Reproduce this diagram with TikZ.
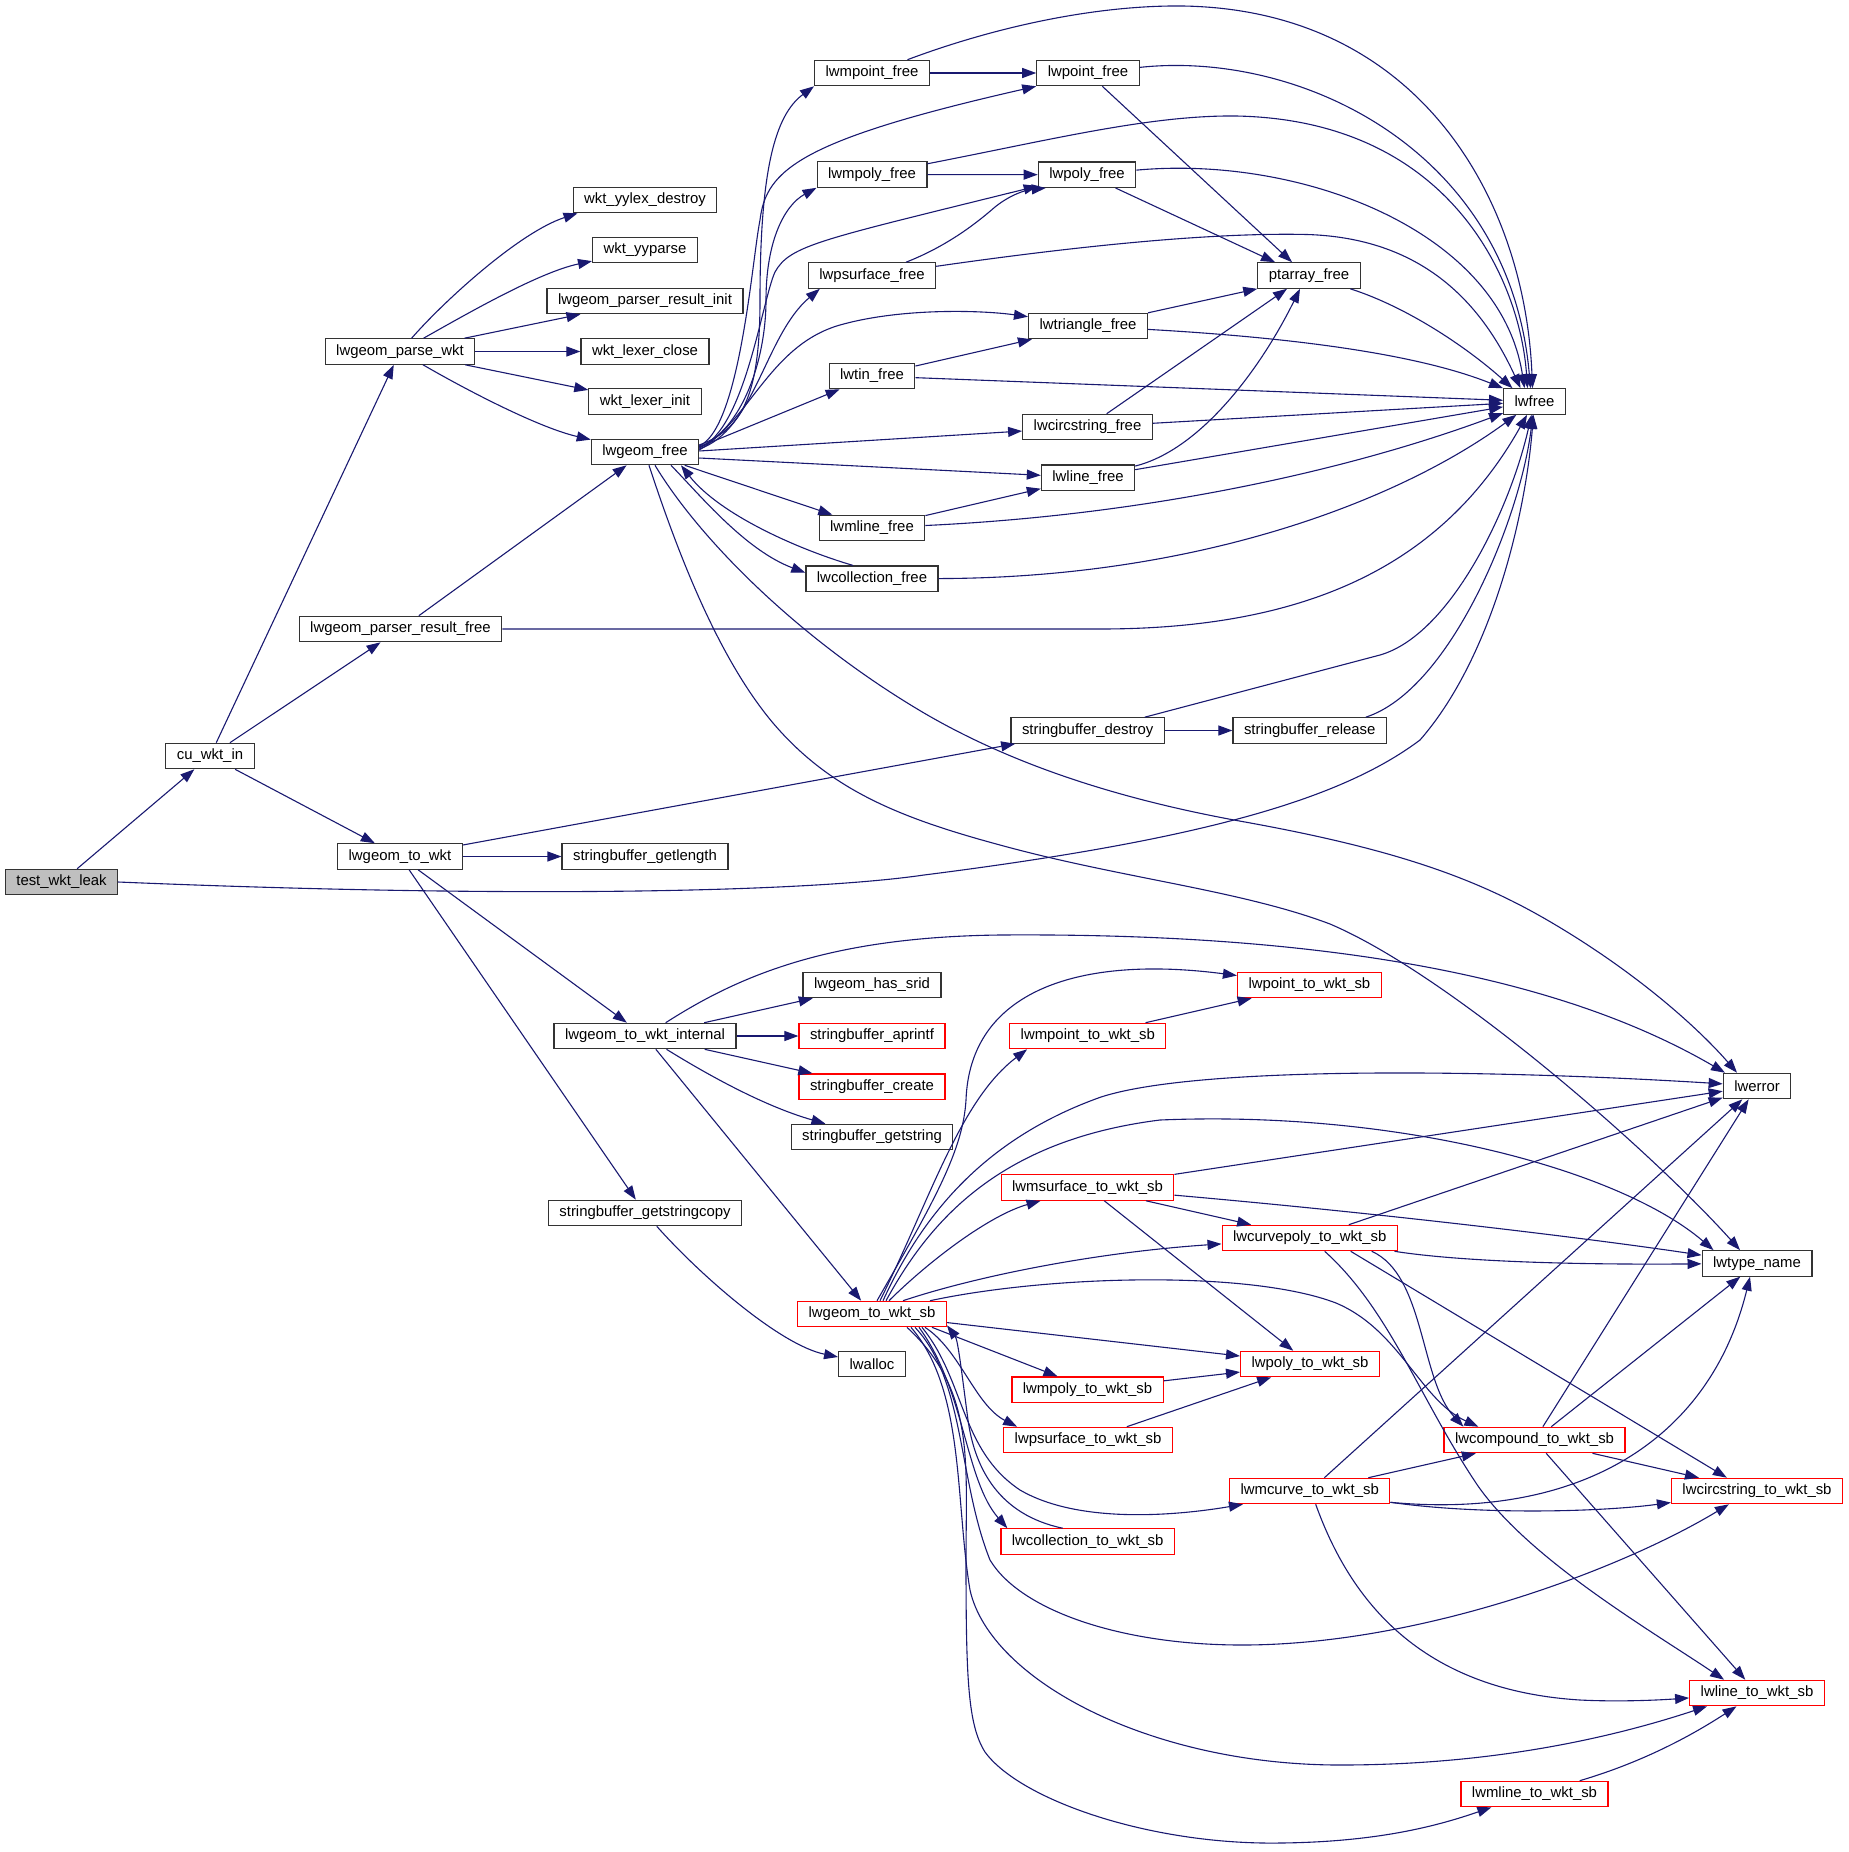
\documentclass[tikz,border=0pt]{standalone}
\usepackage{fontspec}
\setmainfont{Liberation Sans}
\usetikzlibrary{arrows.meta,positioning,calc}
\definecolor{edgeblue}{HTML}{191970}
\definecolor{rootgray}{HTML}{BFBFBF}

\begin{document}
\begin{tikzpicture}[
  x=0.5pt, y=-0.5pt,
  box/.style={rectangle, draw=black!80, line width=0.6pt, fill=white, inner xsep=5.5pt, inner ysep=0pt, minimum height=12.7pt, font=\fontsize{7.45pt}{9pt}\selectfont},
  redbox/.style={box, draw=red},
  rootbox/.style={box, fill=rootgray},
  arrow/.style={draw=edgeblue, line width=0.55pt, -{Triangle[length=7pt,width=5pt]}}]

\useasboundingbox (0,0) rectangle (1848,1852);

\node[rootbox] (test) at (61.5,882) {test\_wkt\_leak};
\node[box] (cuwkt) at (210,756) {cu\_wkt\_in};
\node[box] (parse) at (400,351.5) {lwgeom\_parse\_wkt};
\node[box] (resfree) at (400.5,629) {lwgeom\_parser\_result\_free};
\node[box] (towkt) at (400,856.5) {lwgeom\_to\_wkt};

\node[box] (yylex) at (645,200) {wkt\_yylex\_destroy};
\node[box] (yyparse) at (645,250) {wkt\_yyparse};
\node[box] (resinit) at (645,301) {lwgeom\_parser\_result\_init};
\node[box] (lexclose) at (645,351.5) {wkt\_lexer\_close};
\node[box] (lexinit) at (645,401.5) {wkt\_lexer\_init};
\node[box] (geomfree) at (645,452) {lwgeom\_free};
\node[box] (getlen) at (645,856.5) {stringbuffer\_getlength};
\node[box] (towktint) at (645,1036) {lwgeom\_to\_wkt\_internal};
\node[box] (getcopy) at (645,1213) {stringbuffer\_getstringcopy};

\node[box] (mpointfree) at (872,73) {lwmpoint\_free};
\node[box] (mpolyfree) at (872,174.5) {lwmpoly\_free};
\node[box] (psurffree) at (872,275.5) {lwpsurface\_free};
\node[box] (tinfree) at (872,376) {lwtin\_free};
\node[box] (mlinefree) at (872,528) {lwmline\_free};
\node[box] (collfree) at (872,578.7) {lwcollection\_free};
\node[box] (hassrid) at (872,985) {lwgeom\_has\_srid};
\node[redbox] (aprintf) at (872,1036) {stringbuffer\_aprintf};
\node[redbox] (sbcreate) at (872,1086.6) {stringbuffer\_create};
\node[box] (getstr) at (872,1137) {stringbuffer\_getstring};
\node[redbox] (towktsb) at (872,1314) {lwgeom\_to\_wkt\_sb};
\node[box] (lwalloc) at (872,1364) {lwalloc};

\node[box] (pointfree) at (1088,73) {lwpoint\_free};
\node[box] (polyfree) at (1087,174.7) {lwpoly\_free};
\node[box] (trifree) at (1088,326) {lwtriangle\_free};
\node[box] (circfree) at (1087.5,427) {lwcircstring\_free};
\node[box] (linefree) at (1088,477.7) {lwline\_free};
\node[box] (sbdestroy) at (1087.7,730.5) {stringbuffer\_destroy};
\node[redbox] (mpointsb) at (1087.8,1036) {lwmpoint\_to\_wkt\_sb};
\node[redbox] (msurfsb) at (1087.5,1187.5) {lwmsurface\_to\_wkt\_sb};
\node[redbox] (mpolysb) at (1087.5,1389.6) {lwmpoly\_to\_wkt\_sb};
\node[redbox] (psurfsb) at (1088,1440) {lwpsurface\_to\_wkt\_sb};
\node[redbox] (collsb) at (1087.7,1541.5) {lwcollection\_to\_wkt\_sb};

\node[box] (ptarray) at (1309,275.5) {ptarray\_free};
\node[box] (sbrelease) at (1309.7,730.5) {stringbuffer\_release};
\node[redbox] (pointsb) at (1309.4,985) {lwpoint\_to\_wkt\_sb};
\node[redbox] (curvepolysb) at (1309.7,1238) {lwcurvepoly\_to\_wkt\_sb};
\node[redbox] (polysb) at (1310,1364) {lwpoly\_to\_wkt\_sb};
\node[redbox] (mcurvesb) at (1309.7,1491) {lwmcurve\_to\_wkt\_sb};

\node[box] (lwfree) at (1534.5,401.5) {lwfree};
\node[redbox] (compoundsb) at (1534.5,1440) {lwcompound\_to\_wkt\_sb};
\node[redbox] (mlinesb) at (1534.5,1794) {lwmline\_to\_wkt\_sb};

\node[box] (lwerror) at (1757,1086) {lwerror};
\node[box] (typename) at (1757,1263.4) {lwtype\_name};
\node[redbox] (circsb) at (1757,1491) {lwcircstring\_to\_wkt\_sb};
\node[redbox] (linesb) at (1757,1693) {lwline\_to\_wkt\_sb};

% callers on the left
\draw[arrow] (test) -- (cuwkt);
\draw[arrow] (test.east) .. controls (500,898) and (800,893) .. (924,875) .. controls (1200,840) and (1340,800) .. (1420,740) .. controls (1490,660) and (1525,520) .. (lwfree);
\draw[arrow] (cuwkt) -- (parse);
\draw[arrow] (cuwkt) -- (resfree);
\draw[arrow] (cuwkt) -- (towkt);

\draw[arrow] (parse) .. controls (445,300) and (520,232) .. ($(yylex.south west)+(5,0)$);
\draw[arrow] (parse) .. controls (470,312) and (540,272) .. (yyparse);
\draw[arrow] (parse) -- (resinit);
\draw[arrow] (parse) -- (lexclose);
\draw[arrow] (parse) -- (lexinit);
\draw[arrow] (parse) .. controls (470,392) and (540,428) .. (geomfree);

\draw[arrow] (resfree) -- (geomfree);
\draw[arrow] (resfree.east) -- (1100,629) .. controls (1300,629) and (1440,570) .. (lwfree);

\draw[arrow] (towkt) -- (getlen);
\draw[arrow] (towkt) -- (sbdestroy);
\draw[arrow] (towkt) -- (towktint);
\draw[arrow] (towkt) -- (getcopy);

% lwgeom_free
\draw[arrow] ($(geomfree.east)+(0,-7)$) .. controls (740,430) and (760,400) .. (760,300) .. controls (760,170) and (775,115) .. (mpointfree.south west);
\draw[arrow] ($(geomfree.east)+(0,-6)$) .. controls (740,428) and (752,260) .. (760,220) .. controls (766,170) and (800,140) .. (pointfree.south west);
\draw[arrow] ($(geomfree.east)+(0,-5)$) .. controls (742,430) and (766,360) .. (766,300) .. controls (766,240) and (785,205) .. (mpolyfree.south west);
\draw[arrow] ($(geomfree.east)+(0,-4)$) .. controls (745,430) and (762,300) .. (775,272) .. controls (790,245) and (820,240) .. ($(polyfree.south west)+(0,-2)$);
\draw[arrow] ($(geomfree.east)+(0,-3)$) .. controls (755,430) and (765,335) .. ($(psurffree.south west)+(12,0)$);
\draw[arrow] ($(geomfree.east)+(0,-2)$) .. controls (750,420) and (770,345) .. (840,325) .. controls (900,308) and (980,310) .. ($(trifree.north west)+(0,4)$);
\draw[arrow] ($(geomfree.east)+(0,-5)$) -- (tinfree);
\draw[arrow] ($(geomfree.east)+(0,-1)$) -- (circfree);
\draw[arrow] ($(geomfree.east)+(0,6)$) -- (linefree);
\draw[arrow] (geomfree) -- (mlinefree);
\draw[arrow] ($(geomfree.south)+(26,0)$) .. controls (700,495) and (745,550) .. ($(collfree.west)+(0,-6)$);
\draw[arrow] ($(collfree.north)+(-19,0)$) .. controls (800,550) and (720,515) .. ($(geomfree.south)+(36,0)$);
\draw[arrow] ($(geomfree.south)+(10,0)$) .. controls (700,540) and (800,640) .. (924,713) .. controls (1030,775) and (1150,805) .. (1245,822) .. controls (1400,850) and (1480,880) .. (1554,924) .. controls (1640,975) and (1700,1030) .. ($(lwerror.north)+(-20,0)$);
\draw[arrow] ($(geomfree.south)+(4,0)$) .. controls (680,560) and (720,660) .. (773,723) .. controls (830,790) and (900,818) .. (1000,845) .. controls (1120,878) and (1240,890) .. (1330,924) .. controls (1450,975) and (1650,1150) .. ($(typename.north)+(-17,0)$);

% free functions
\draw[arrow] (mpointfree) -- (pointfree);
\draw[arrow] (mpointfree) .. controls (1000,25) and (1100,5) .. (1183,6) .. controls (1420,10) and (1525,200) .. ($(lwfree.north)+(-2,0)$);
\draw[arrow] (pointfree) .. controls (1300,50) and (1510,150) .. ($(lwfree.north)+(-4,0)$);
\draw[arrow] (pointfree) -- ($(ptarray.north)+(-17,0)$);
\draw[arrow] (mpolyfree) -- (polyfree);
\draw[arrow] (mpolyfree) .. controls (1050,140) and (1150,115) .. (1236,116) .. controls (1450,120) and (1520,280) .. ($(lwfree.north)+(-7,0)$);
\draw[arrow] (polyfree) .. controls (1300,155) and (1500,230) .. ($(lwfree.north)+(-10,0)$);
\draw[arrow] (polyfree) -- ($(ptarray.north)+(-34,0)$);
\draw[arrow] (psurffree) .. controls (950,245) and (980,220) .. (995,207) .. controls (1010,195) and (1025,190) .. ($(polyfree.south west)+(8,0)$);
\draw[arrow] (psurffree) .. controls (1050,250) and (1200,232) .. (1307,234.5) .. controls (1420,238) and (1480,300) .. ($(lwfree.north)+(-14,0)$);
\draw[arrow] (ptarray) .. controls (1410,308) and (1470,350) .. ($(lwfree.north)+(-22,0)$);
\draw[arrow] (trifree) -- (ptarray.south west);
\draw[arrow] (trifree) .. controls (1300,338) and (1420,355) .. (lwfree.north west);
\draw[arrow] (tinfree) -- ($(trifree.south west)+(4,0)$);
\draw[arrow] (tinfree) -- (lwfree);
\draw[arrow] (circfree) -- ($(ptarray.south)+(-22,0)$);
\draw[arrow] (circfree) -- (lwfree);
\draw[arrow] (linefree) .. controls (1200,450) and (1260,370) .. ($(ptarray.south)+(-9,0)$);
\draw[arrow] (linefree) -- (lwfree);
\draw[arrow] (mlinefree) -- (linefree);
\draw[arrow] (mlinefree) .. controls (1150,515) and (1350,470) .. (lwfree);
\draw[arrow] (collfree) .. controls (1200,578) and (1400,500) .. (lwfree);
\draw[arrow] (sbdestroy) -- (sbrelease);
\draw[arrow] ($(sbdestroy.north)+(57,0)$) -- (1380,655) .. controls (1450,635) and (1510,510) .. (lwfree);
\draw[arrow] ($(sbrelease.north)+(56,0)$) .. controls (1450,690) and (1520,520) .. (lwfree);

% lwgeom_to_wkt_internal
\draw[arrow] (towktint) .. controls (740,975) and (830,937) .. (1000,935) .. controls (1400,932) and (1600,1000) .. ($(lwerror.north)+(-32,0)$);
\draw[arrow] (towktint) -- (hassrid);
\draw[arrow] (towktint) -- (aprintf);
\draw[arrow] (towktint) -- (sbcreate);
\draw[arrow] (towktint) .. controls (700,1070) and (760,1105) .. (getstr);
\draw[arrow] (towktint) -- (towktsb);
\draw[arrow] (getcopy) .. controls (700,1275) and (780,1345) .. (lwalloc);

% lwgeom_to_wkt_sb
\draw[arrow] ($(towktsb.north)+(5,0)$) .. controls (935,1200) and (963,1150) .. (966,1100) .. controls (970,990) and (1080,955) .. (pointsb);
\draw[arrow] ($(towktsb.north)+(8,0)$) .. controls (930,1200) and (960,1100) .. ($(mpointsb.south west)+(18,0)$);
\draw[arrow] ($(towktsb.north)+(11,0)$) .. controls (920,1220) and (980,1140) .. (1101,1097) .. controls (1200,1065) and (1500,1070) .. (lwerror);
\draw[arrow] ($(towktsb.north)+(14,0)$) .. controls (930,1220) and (1000,1140) .. (1160,1120) .. controls (1400,1110) and (1620,1170) .. ($(typename.north west)+(12,0)$);
\draw[arrow] ($(towktsb.north)+(17,0)$) .. controls (930,1260) and (990,1215) .. ($(msurfsb.south west)+(40,0)$);
\draw[arrow] ($(towktsb.north)+(31,0)$) .. controls (980,1275) and (1100,1252) .. (curvepolysb);
\draw[arrow] ($(towktsb.north)+(58,0)$) .. controls (1050,1275) and (1250,1270) .. (1336,1303) .. controls (1400,1330) and (1420,1400) .. ($(compoundsb.north west)+(35,0)$);
\draw[arrow] (towktsb) -- (polysb);
\draw[arrow] ($(towktsb.south east)+(-15,0)$) -- ($(mpolysb.north)+(-30,0)$);
\draw[arrow] ($(towktsb.south east)+(-22,0)$) .. controls (960,1350) and (975,1405) .. ($(psurfsb.north west)+(14,0)$);
\draw[arrow] ($(towktsb.south east)+(-25,0)$) .. controls (965,1380) and (960,1450) .. (1020,1490) .. controls (1080,1525) and (1180,1515) .. ($(mcurvesb.south west)+(14,0)$);
\draw[arrow] ($(towktsb.south east)+(-28,0)$) .. controls (965,1390) and (965,1480) .. ($(collsb.north west)+(7,0)$);
\draw[arrow] ($(collsb.north)+(-25,0)$) .. controls (1000,1515) and (975,1470) .. (968,1420) .. controls (962,1375) and (958,1340) .. ($(towktsb.south east)+(0,-2)$);
\draw[arrow] ($(towktsb.south east)+(-32,0)$) .. controls (965,1380) and (958,1480) .. (990,1560) .. controls (1020,1610) and (1120,1645) .. (1242,1645) .. controls (1420,1645) and (1620,1570) .. ($(circsb.south west)+(58,0)$);
\draw[arrow] ($(towktsb.south east)+(-36,0)$) .. controls (965,1390) and (955,1500) .. (970,1590) .. controls (990,1680) and (1150,1765) .. (1340,1765) .. controls (1500,1765) and (1620,1735) .. ($(linesb.south west)+(18,0)$);
\draw[arrow] ($(towktsb.south east)+(-40,0)$) .. controls (975,1390) and (966,1460) .. (966,1560) .. controls (966,1680) and (968,1725) .. (985,1752) .. controls (1020,1800) and (1150,1845) .. (1280,1843) .. controls (1380,1842) and (1440,1825) .. ($(mlinesb.south west)+(31,0)$);

% writers
\draw[arrow] (mpointsb) -- (pointsb);
\draw[arrow] (msurfsb) -- (lwerror);
\draw[arrow] (msurfsb) .. controls (1400,1215) and (1600,1240) .. (typename);
\draw[arrow] (msurfsb) -- (curvepolysb);
\draw[arrow] (msurfsb) -- (polysb);
\draw[arrow] (curvepolysb) -- (lwerror);
\draw[arrow] (curvepolysb) .. controls (1450,1260) and (1550,1265) .. (typename);
\draw[arrow] ($(curvepolysb.south)+(62,0)$) .. controls (1425,1275) and (1420,1380) .. ($(compoundsb.north west)+(20,0)$);
\draw[arrow] ($(curvepolysb.south)+(41,0)$) -- ($(circsb.north west)+(56,0)$);
\draw[arrow] ($(curvepolysb.south)+(15,0)$) .. controls (1390,1310) and (1420,1400) .. (1478,1486) .. controls (1530,1560) and (1650,1630) .. ($(linesb.north west)+(35,0)$);
\draw[arrow] (compoundsb) -- (lwerror);
\draw[arrow] (compoundsb) -- (typename);
\draw[arrow] (compoundsb) -- (circsb);
\draw[arrow] (compoundsb) -- (linesb);
\draw[arrow] (mcurvesb) -- (compoundsb);
\draw[arrow] (mcurvesb) -- (lwerror);
\draw[arrow] ($(mcurvesb.south east)+(0,-2)$) .. controls (1580,1520) and (1710,1440) .. ($(typename.south)+(-7,0)$);
\draw[arrow] ($(mcurvesb.south east)+(0,-2)$) .. controls (1480,1515) and (1600,1512) .. (circsb);
\draw[arrow] ($(mcurvesb.south)+(6,0)$) .. controls (1350,1600) and (1420,1690) .. (1580,1700) .. controls (1620,1702) and (1660,1700) .. (linesb);
\draw[arrow] (mpolysb) -- (polysb);
\draw[arrow] (psurfsb) -- (polysb);
\draw[arrow] (mlinesb) .. controls (1650,1760) and (1700,1730) .. (linesb);

\end{tikzpicture}
\end{document}
